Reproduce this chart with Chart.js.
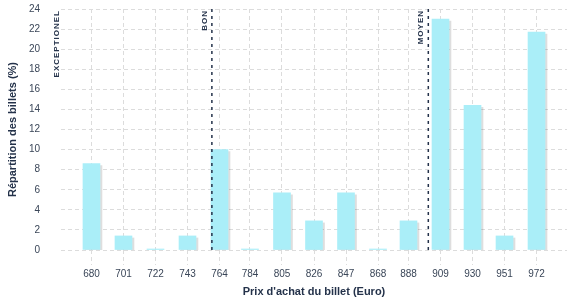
<!DOCTYPE html>
<html>
<head>
<meta charset="utf-8">
<script src="https://cdn.jsdelivr.net/npm/chart.js@4"></script>
<style>
  html, body { margin: 0; padding: 0; background: #fff; }
  #wrap { width: 577px; height: 300px; }
</style>
</head>
<body>
<div id="wrap"><canvas id="priceChart" width="577" height="300"></canvas></div>
<script>
// prix des billets (Euro) et répartition (%)
const prices = [680, 701, 722, 743, 764, 784, 805, 826, 847, 868, 888, 909, 930, 951, 972];
const shares = [8.6, 1.4, 0.1, 1.4, 10.0, 0.1, 5.7, 2.9, 5.7, 0.1, 2.9, 23.0, 14.4, 1.4, 21.7];

// seuils de prix
const markerLabels = ['EXCEPTIONEL', 'BON', 'MOYEN'];
const markerPrices = [662, 759, 901];
const markerShowLine = [false, true, true];

const navy = '#24324a';
const gridColor = '#dcdcdc';
const dash = [4, 3];

// lignes verticales en pointillés + libellés
const markerPlugin = {
    id: 'markers',
    afterDatasetsDraw(chart) {
        const ctx = chart.ctx;
        const x = chart.scales.x;
        const area = chart.chartArea;
        ctx.save();
        markerPrices.forEach(function (p, i) {
            const px = x.getPixelForValue(p);
            if (markerShowLine[i]) {
                ctx.beginPath();
                ctx.setLineDash([3, 4]);
                ctx.lineWidth = 1.5;
                ctx.strokeStyle = navy;
                ctx.moveTo(px, area.top);
                ctx.lineTo(px, area.bottom);
                ctx.stroke();
            }
            ctx.save();
            ctx.translate(px - 7.5, area.top + 1);
            ctx.rotate(-Math.PI / 2);
            ctx.font = 'bold 8px "Liberation Sans"';
            ctx.letterSpacing = '1px';
            ctx.fillStyle = navy;
            ctx.textAlign = 'right';
            ctx.textBaseline = 'middle';
            ctx.fillText(markerLabels[i], 0, 0);
            ctx.restore();
        });
        ctx.restore();
    }
};

// ombre légère à droite des barres
const shadowPlugin = {
    id: 'barShadow',
    beforeDatasetsDraw(chart) {
        const ctx = chart.ctx;
        ctx.save();
        ctx.shadowColor = 'rgba(0, 0, 0, 0.13)';
        ctx.shadowOffsetX = 2;
        ctx.shadowOffsetY = 2;
        ctx.shadowBlur = 0;
    },
    afterDatasetsDraw(chart) {
        chart.ctx.restore();
    }
};

Chart.defaults.font.family = '"Liberation Sans", Arial, sans-serif';

const ctx = document.getElementById('priceChart').getContext('2d');
const priceChart = new Chart(ctx, {
    type: 'bar',
    data: {
        datasets: [{
            label: 'Répartition des billets (%)',
            data: prices.map(function (p, i) { return { x: p, y: shares[i] }; }),
            backgroundColor: '#aaeef8',
            barThickness: 17
        }]
    },
    options: {
        responsive: false,
        animation: false,
        layout: {
            padding: { left: 2, right: 10, top: 6, bottom: 1 }
        },
        plugins: {
            legend: { display: false },
            tooltip: { enabled: false }
        },
        scales: {
            x: {
                type: 'linear',
                min: 660,
                max: 992,
                offset: false,
                afterBuildTicks: function (scale) {
                    scale.ticks = prices.map(function (p) { return { value: p }; });
                },
                afterFit: function (scale) {
                    scale.height = 49;
                },
                grid: {
                    offset: false,
                    color: gridColor,
                    lineWidth: 1,
                    tickLength: 15,
                    tickBorderDash: dash
                },
                border: { display: false, dash: dash },
                ticks: {
                    padding: 3,
                    maxRotation: 0,
                    autoSkip: false,
                    color: '#3a4658',
                    font: { size: 10 },
                    callback: function (v) { return String(v); }
                },
                title: {
                    display: true,
                    text: "Prix d'achat du billet (Euro)",
                    color: navy,
                    font: { size: 11, weight: 'bold' },
                    padding: { top: 6, bottom: 0 }
                }
            },
            y: {
                min: 0,
                max: 24,
                afterFit: function (scale) {
                    scale.width = 59;
                },
                grid: {
                    color: gridColor,
                    lineWidth: 1,
                    drawTicks: true,
                    tickLength: 18,
                    tickColor: 'rgba(0, 0, 0, 0)'
                },
                border: { display: false, dash: dash },
                ticks: {
                    stepSize: 2,
                    padding: 3,
                    color: '#3a4658',
                    font: { size: 10 }
                },
                title: {
                    display: true,
                    text: 'Répartition des billets (%)',
                    color: navy,
                    font: { size: 11, weight: 'bold' },
                    padding: { top: 4, bottom: 9 }
                }
            }
        }
    },
    plugins: [shadowPlugin, markerPlugin]
});
</script>
</body>
</html>
